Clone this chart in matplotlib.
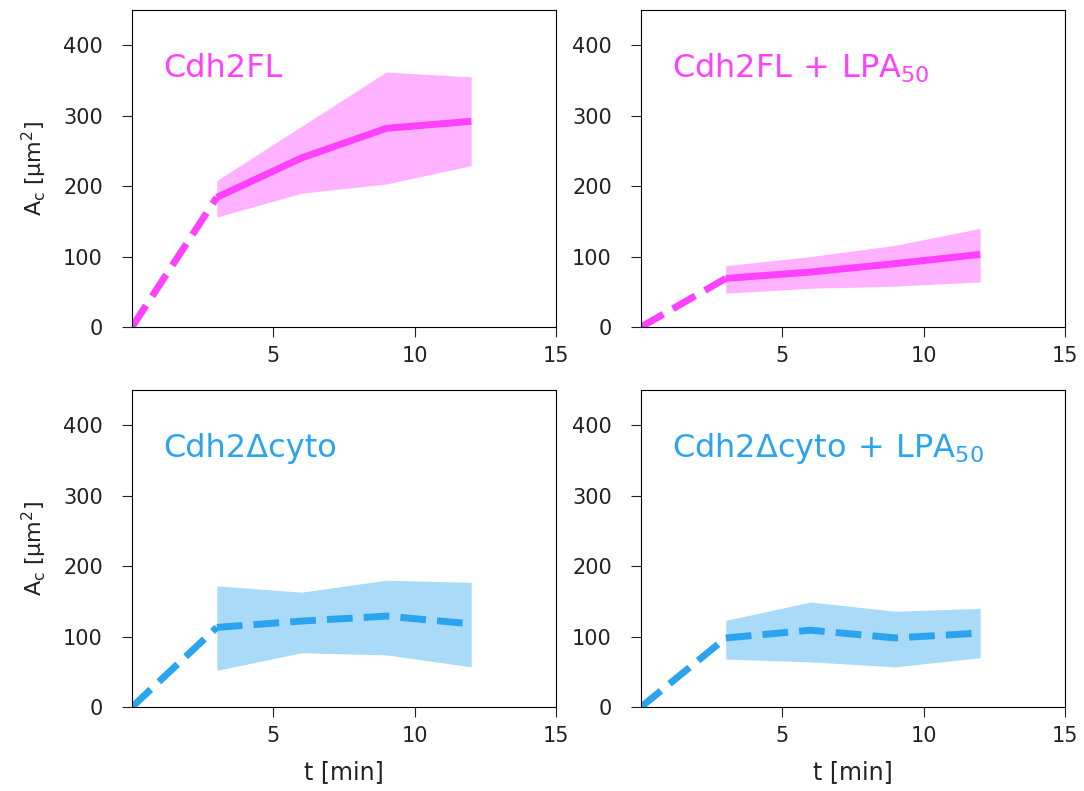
import matplotlib
matplotlib.use("Agg")
import matplotlib.pyplot as plt

t = [3, 6, 9, 12]
t0 = [0, 3]

titles = ["Cdh2FL", r"Cdh2FL$\,+\,$LPA$_{50}$", "Cdh2Δcyto", r"Cdh2Δcyto$\,+\,$LPA$_{50}$"]

fl_mean = [184, 240, 282, 292]
fl_low = [156, 190, 203, 229]
fl_high = [208, 285, 362, 355]

fl_lpa_mean = [69, 78, 90, 103]
fl_lpa_low = [48, 55, 58, 64]
fl_lpa_high = [87, 100, 116, 140]

dc_mean = [113, 122, 129, 118]
dc_low = [52, 77, 74, 57]
dc_high = [172, 163, 180, 177]

dc_lpa_mean = [98, 109, 98, 105]
dc_lpa_low = [68, 64, 57, 70]
dc_lpa_high = [123, 149, 136, 140]

magenta = "#FF40FF"
blue = "#2AA4EF"

panels = [
    (fl_mean, fl_low, fl_high, magenta, "-"),
    (fl_lpa_mean, fl_lpa_low, fl_lpa_high, magenta, "-"),
    (dc_mean, dc_low, dc_high, blue, "--"),
    (dc_lpa_mean, dc_lpa_low, dc_lpa_high, blue, "--"),
]

fig = plt.figure(figsize=(10.84, 7.91), dpi=100)
W, H = 1084, 791
lefts = [132, 641, 132, 641]
tops = [10, 10, 390, 390]
aw, ah = 424, 317

for i, (m, lo, hi, c, ls) in enumerate(panels):
    ax = fig.add_axes([lefts[i] / W, 1 - (tops[i] + ah) / H, aw / W, ah / H])
    ax.fill_between(t, lo, hi, color=c, alpha=0.4, linewidth=0)
    ax.plot(t0, [0, m[0]], color=c, lw=5, ls="--")
    ax.plot(t, m, color=c, lw=5, ls=ls, solid_capstyle="butt", solid_joinstyle="round")
    ax.set_xlim(0, 15)
    ax.set_ylim(0, 450)
    ax.set_xticks([5, 10, 15])
    ax.set_yticks([0, 100, 200, 300, 400])
    ax.tick_params(labelsize=15, length=7, colors="#222222")
    ax.tick_params(axis="y", pad=14)
    ax.tick_params(axis="x", pad=7)
    ax.text(0.073, 0.815, titles[i], transform=ax.transAxes, color=c, fontsize=23, va="center", ha="left")
    if i % 2 == 0:
        ax.set_ylabel(r"A$_\mathrm{c}$ [µm$^2$]", fontsize=16, labelpad=10, color="#222222")
    if i >= 2:
        ax.set_xlabel("t [min]", fontsize=17, labelpad=10, color="#222222")

fig.savefig("out.png", dpi=100)
